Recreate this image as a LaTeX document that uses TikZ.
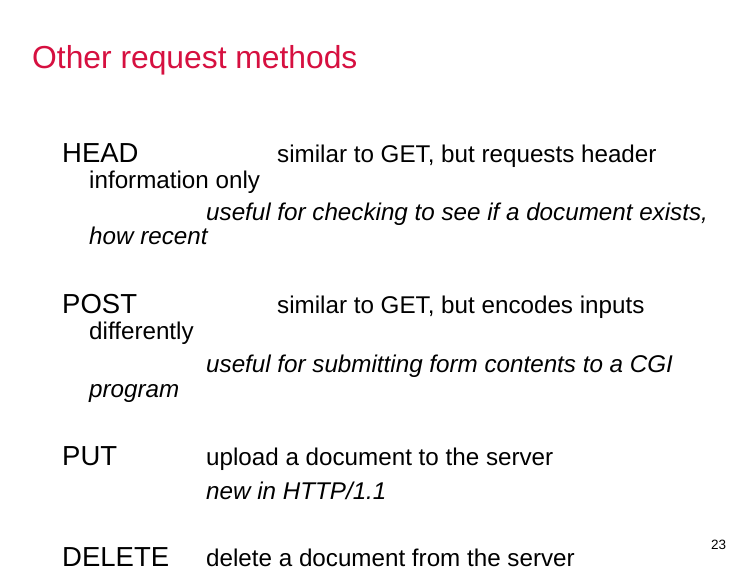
\documentclass[tikz,border=0pt]{standalone}
\usepackage{fontspec}
\setmainfont{Liberation Sans}
\definecolor{titlered}{RGB}{214,16,64}
\begin{document}
\begin{tikzpicture}[x=1pt,y=-1pt,
  t/.style={anchor=base west,inner sep=0pt,font=\fontsize{24.2}{27}\selectfont},
  lab/.style={anchor=base west,inner sep=0pt,font=\fontsize{27.5}{30}\selectfont},
  it/.style={t,font=\fontsize{24.2}{27}\selectfont\itshape}]
\useasboundingbox[fill=white] (0,0) rectangle (756,576);
\node[anchor=base west,inner sep=0pt,text=titlered,font=\fontsize{31.8}{34}\selectfont] (title) at (32,68) {Other request methods};
\node[lab] (head) at (62,162) {HEAD};
\node[t] (h1) at (277,162) {similar to GET, but requests header};
\node[t] (h2) at (89,188) {information only};
\node[it] (h3) at (206,220) {useful for checking to see if a document exists,};
\node[it] (h4) at (89,244) {how recent};
\node[lab] (post) at (62,313) {POST};
\node[t] (p1) at (277,313) {similar to GET, but encodes inputs};
\node[t] (p2) at (89,339) {differently};
\node[it] (p3) at (206,372) {useful for submitting form contents to a CGI};
\node[it] (p4) at (89,397) {program};
\node[lab] (put) at (62,465) {PUT};
\node[t] (u1) at (206,465) {upload a document to the server};
\node[it] (u2) at (206,499) {new in HTTP/1.1};
\node[lab] (del) at (62,566) {DELETE};
\node[t] (d1) at (206,566) {delete a document from the server};
\node[anchor=base west,inner sep=0pt,font=\fontsize{13.5}{15}\selectfont] (num) at (711,549) {23};
\end{tikzpicture}
\end{document}
